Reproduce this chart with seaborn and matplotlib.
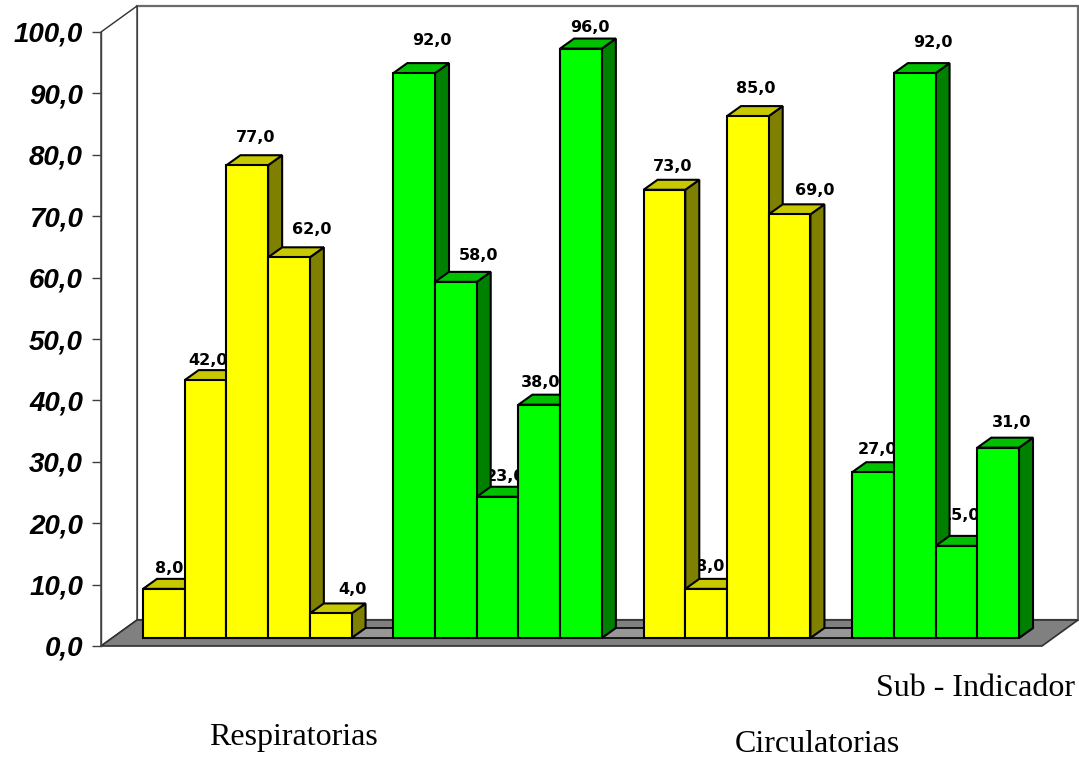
import matplotlib
matplotlib.use("Agg")
import matplotlib.pyplot as plt
import numpy as np
import pandas as pd
import seaborn as sns
from matplotlib.patches import Polygon
from matplotlib.transforms import Affine2D, IdentityTransform
from matplotlib.ticker import FuncFormatter

# ---- data -------------------------------------------------------------
resp_amarillo = [8, 42, 77, 62, 4]
resp_verde = [92, 58, 23, 38, 96]
circ_amarillo = [73, 8, 85, 69]
circ_verde = [27, 92, 15, 31]

group_labels = ["Respiratorias", "Circulatorias"]
axis_title = "Sub - Indicador"
y_ticks = [0, 10, 20, 30, 40, 50, 60, 70, 80, 90, 100]

# ---- styling / layout -------------------------------------------------
face = {"A": "#FFFF00", "B": "#00FF00"}
top_col = {"A": "#C8C800", "B": "#00C000"}
side_col = {"A": "#808000", "B": "#008000"}

BAR_OFF = np.array([11.0, 8.0])     # bar row sits a bit behind the front edge
BAR_DEPTH = np.array([14.0, 10.0])  # thickness of each bar
WALL = np.array([36.0, 26.0])       # full depth of the floor

# per-label nudges (pixels) for the value tags
label_dx = [5, 2, 8, 23, 22, 18, 23, 8, 1, 9, 8, 4, 8, 25, 4, 18, 4, 13]
label_dy = [20, 20, 28, 28, 24, 33, 26, 20, 22, 21, 23, 22, 28, 24, 23, 31, 30, 25]

# ---- assemble bar table ---------------------------------------------------
pos, vals, kinds = [], [], []
slot = 0
for series, kind in [(resp_amarillo, "A"), (resp_verde, "B"),
                     (circ_amarillo, "A"), (circ_verde, "B")]:
    for v in series:
        pos.append(slot)
        vals.append(v)
        kinds.append(kind)
        slot += 1
    slot += 1
df = pd.DataFrame({"pos": pos, "valor": vals, "tipo": kinds})

sns.set_theme(style="white")
plt.rcParams["font.family"] = ["Liberation Sans", "DejaVu Sans"]

W, H = 1079, 763
fig = plt.figure(figsize=(W / 100, H / 100), dpi=100)
ax = fig.add_axes([101 / W, 117 / H, 941 / W, 614 / H])

sns.barplot(data=df, x="pos", y="valor", hue="tipo", palette=face,
            native_scale=True, width=1, dodge=False, legend=False,
            saturation=1, edgecolor="black", linewidth=1.5, ax=ax)

XL, XR = -1.243, 21.315
ax.set_xlim(XL, XR)
ax.set_ylim(0, 100)
ax.set_autoscale_on(False)

ax.set_xlabel("")
ax.set_ylabel("")
ax.set_xticks([])
ax.set_yticks(y_ticks)
ax.yaxis.set_major_formatter(FuncFormatter(lambda v, _: f"{v:.1f}".replace(".", ",")))
ax.tick_params(axis="y", direction="out", length=6.5, width=1, color="#404040",
               pad=6.5, left=True, labelcolor="black")
for lab in ax.get_yticklabels():
    lab.set_fontsize(20)
    lab.set_fontweight("bold")
    lab.set_fontstyle("italic")
    lab.set_family("Liberation Sans")
for s in ["top", "right", "bottom"]:
    ax.spines[s].set_visible(False)
ax.spines["left"].set_color("#404040")
ax.spines["left"].set_linewidth(1)
ax.spines["left"].set_zorder(0.4)
ax.patch.set_visible(False)


def disp(x, y, off=(0.0, 0.0)):
    return ax.transData.transform((x, y)) + np.asarray(off)


def poly(pts, fc, ec="black", lw=1.0, z=1.0):
    ax.add_patch(Polygon(np.array(pts), closed=True, facecolor=fc, edgecolor=ec,
                         linewidth=lw, transform=IdentityTransform(),
                         clip_on=False, zorder=z, joinstyle="miter"))


# back wall and left wall
poly([disp(XL, 0, WALL), disp(XR, 0, WALL), disp(XR, 100, WALL), disp(XL, 100, WALL)],
     "white", ec="#6a6a6a", lw=1.6, z=0.1)
poly([disp(XL, 0), disp(XL, 100), disp(XL, 100, WALL), disp(XL, 0, WALL)],
     "white", ec="#303030", lw=1.0, z=0.15)

# floor
poly([disp(XL, 0), disp(XR, 0), disp(XR, 0, WALL), disp(XL, 0, WALL)],
     "#808080", ec="#303030", lw=1.2, z=0.2)

bars = sorted(ax.patches[:len(df)], key=lambda p: p.get_x())
# base strip under the bar row
x_first = bars[0].get_x()
x_last = bars[-1].get_x() + bars[-1].get_width()
poly([disp(x_first, 0, BAR_OFF), disp(x_last, 0, BAR_OFF),
      disp(x_last, 0, BAR_OFF + BAR_DEPTH), disp(x_first, 0, BAR_OFF + BAR_DEPTH)],
     "#979797", ec="black", lw=1.2, z=0.3)

shift = Affine2D().translate(*BAR_OFF)
for i, (p, kind, v) in enumerate(zip(bars, df["tipo"], df["valor"])):
    x0, w, h = p.get_x(), p.get_width(), p.get_height()
    x1 = x0 + w
    zb = 1 + 2 * i
    # right side face
    poly([disp(x1, 0, BAR_OFF), disp(x1, h, BAR_OFF),
          disp(x1, h, BAR_OFF + BAR_DEPTH), disp(x1, 0, BAR_OFF + BAR_DEPTH)],
         side_col[kind], lw=1.5, z=zb)
    # top face
    poly([disp(x0, h, BAR_OFF), disp(x1, h, BAR_OFF),
          disp(x1, h, BAR_OFF + BAR_DEPTH), disp(x0, h, BAR_OFF + BAR_DEPTH)],
         top_col[kind], lw=1.5, z=zb)
    # front face drawn by seaborn, moved onto the bar row
    p.set_transform(ax.transData + shift)
    p.set_clip_on(False)
    p.set_zorder(zb + 1)
    p.set_joinstyle("miter")
    # value tag
    ax.annotate(f"{v:.1f}".replace(".", ","), xy=(x0 + w / 2, h),
                xytext=(BAR_OFF[0] + label_dx[i], BAR_OFF[1] + label_dy[i]),
                textcoords="offset pixels", ha="center", va="center",
                fontsize=11.5, fontweight="bold", family="DejaVu Sans",
                color="black", zorder=0.5, annotation_clip=False)

# category captions
fig.text(293 / W, 1 - 737 / H, group_labels[0], ha="center", va="center",
         fontsize=23, family="Liberation Serif", color="black")
fig.text(817 / W, 1 - 745 / H, group_labels[1], ha="center", va="center",
         fontsize=23, family="Liberation Serif", color="black")
fig.text(1075 / W, 1 - 688 / H, axis_title, ha="right", va="center",
         fontsize=23, family="Liberation Serif", color="black")

fig.savefig("out.png", dpi=100, facecolor="white")
